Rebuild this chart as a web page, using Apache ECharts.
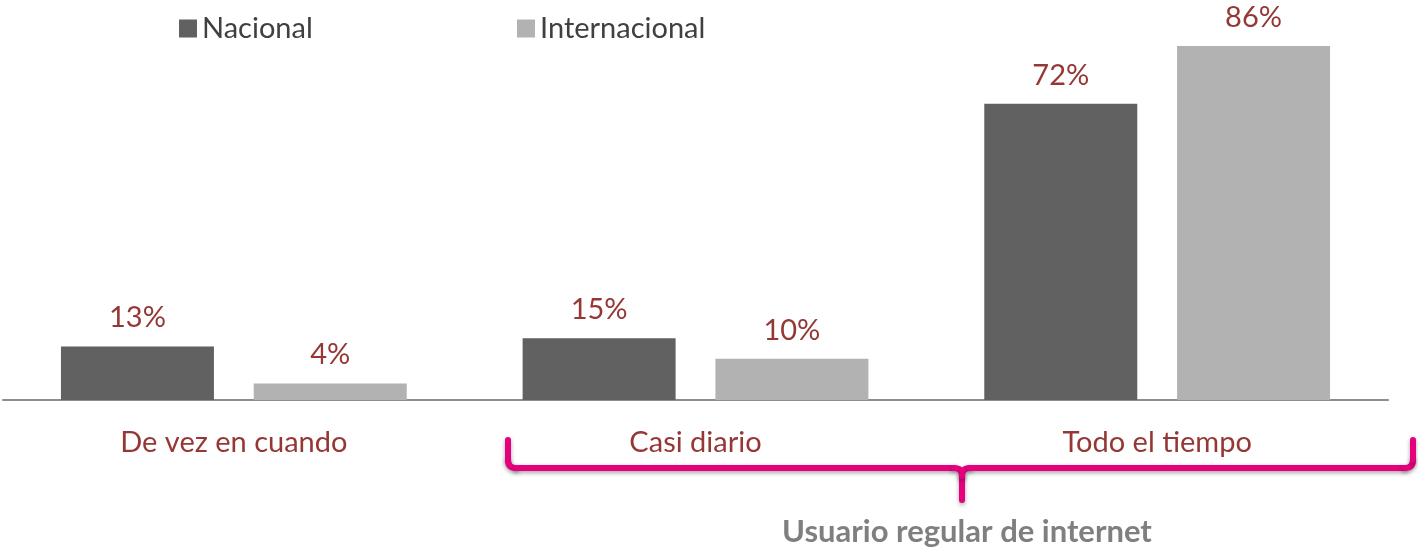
<!DOCTYPE html>
<html>
<head>
<meta charset="utf-8">
<script src="https://cdn.jsdelivr.net/npm/echarts@6/dist/echarts.min.js"></script>
<style>html,body{margin:0;padding:0;background:#fff}#c{width:1418px;height:552px}</style>
</head>
<body>
<div id="c"></div>
<script>
const categories = ['De vez en cuando', 'Casi diario', 'Todo el tiempo'];
const nacional = [13, 15, 72];
const internacional = [4, 10, 86];
const seriesNames = ['Nacional', 'Internacional'];
const bracketLabel = 'Usuario regular de internet';

const FONT = 'Lato, "Open Sans", sans-serif';
const labelColor = '#953735';
const chart = echarts.init(document.getElementById('c'), null, {renderer: 'canvas'});

const lbl = {
  show: true, position: 'top', distance: 14,
  color: labelColor, fontSize: 29, fontFamily: FONT,
  formatter: p => p.value + '%'
};

const bStyle = {stroke: '#e6007e', lineWidth: 6, lineCap: 'round', fill: null,
  shadowBlur: 4, shadowColor: 'rgba(0,0,0,0.35)', shadowOffsetY: 2};
const L = (x1, y1, x2, y2) => ({type: 'line', shape: {x1, y1, x2, y2}, style: bStyle, silent: true});
const Q = (x1, y1, cx, cy, x2, y2) => ({type: 'bezierCurve', shape: {x1, y1, cpx1: cx, cpy1: cy, x2, y2}, style: bStyle, silent: true});

const legendText = {fontSize: 29, color: '#404040', fontFamily: FONT};
chart.setOption({
  animation: false,
  backgroundColor: '#fff',
  legend: [
    {data: [seriesNames[0]], left: 174, top: 9, itemWidth: 18, itemHeight: 18, itemGap: 7,
     icon: 'rect', textStyle: legendText},
    {data: [seriesNames[1]], left: 512, top: 9, itemWidth: 18, itemHeight: 18, itemGap: 7,
     icon: 'rect', textStyle: legendText}
  ],
  grid: {left: 3, right: 30, top: 29.6, bottom: 152, containLabel: false},
  xAxis: {
    type: 'category', data: categories,
    axisLine: {show: true, lineStyle: {color: '#8c8c8c', width: 2}},
    axisTick: {show: false},
    axisLabel: {color: labelColor, fontSize: 29, fontFamily: FONT, margin: 28}
  },
  yAxis: {type: 'value', min: 0, max: 90, show: false, splitLine: {show: false}},
  series: [
    {name: seriesNames[0], type: 'bar', data: nacional, barWidth: 153, barGap: '26%',
     itemStyle: {color: '#616161'}, label: lbl},
    {name: seriesNames[1], type: 'bar', data: internacional, barWidth: 153,
     itemStyle: {color: '#b2b2b2'}, label: lbl}
  ],
  graphic: [
    L(508, 440, 508, 460), Q(508, 460, 508, 468, 516, 468), L(516, 468, 954, 468),
    Q(954, 468, 962, 468, 962, 476), L(962, 476, 962, 500),
    Q(962, 476, 962, 468, 970, 468), L(970, 468, 1405, 468),
    Q(1405, 468, 1413, 468, 1413, 460), L(1413, 460, 1413, 440),
    {type: 'text', x: 967, y: 532,
     style: {text: bracketLabel, fill: '#7f7f7f', font: 'bold 31px ' + FONT, align: 'center', verticalAlign: 'middle'}}
  ]
});
</script>
</body>
</html>
